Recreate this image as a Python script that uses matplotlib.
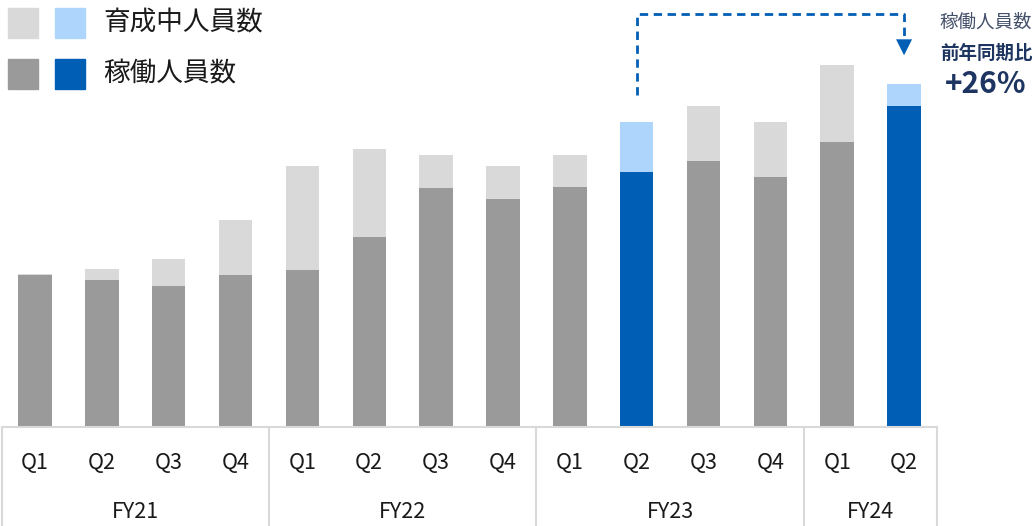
import matplotlib
matplotlib.use("Agg")
import matplotlib.pyplot as plt
from matplotlib.patches import Rectangle

plt.rcParams["font.family"] = ["Noto Sans CJK JP", "DejaVu Sans"]

# values (arbitrary units, no y axis in the original)
quarters = ["Q1", "Q2", "Q3", "Q4", "Q1", "Q2", "Q3", "Q4",
            "Q1", "Q2", "Q3", "Q4", "Q1", "Q2"]
years = ["FY21", "FY22", "FY23", "FY24"]
year_sizes = [4, 4, 4, 2]
active = [152, 147, 141, 152, 157, 190, 239, 228, 240, 255, 266, 250, 285, 321]
training = [1, 11, 27, 55, 104, 88, 33, 33, 32, 50, 55, 55, 77, 22]
highlight = [9, 13]  # FY23 Q2 vs FY24 Q2

GRAY_DARK = "#9a9a9a"
GRAY_LIGHT = "#d9d9d9"
BLUE = "#005eb5"
BLUE_LIGHT = "#aed6fd"
LINE = "#d9d9d9"
TEXT = "#1a1a1a"

W, H = 1034, 526
fig = plt.figure(figsize=(W / 100, H / 100), dpi=100)
ax = fig.add_axes([0, 0, 1, 1])
step = 66.85
ax.set_xlim(-35 / step, (W - 35) / step)
ax.set_ylim(-98.7, 427.3)
ax.axis("off")

n = len(active)
xs = list(range(n))
dark = [BLUE if i in highlight else GRAY_DARK for i in xs]
light = [BLUE_LIGHT if i in highlight else GRAY_LIGHT for i in xs]
ax.bar(xs, active, width=0.5, color=dark, zorder=2)
ax.bar(xs, training, bottom=active, width=0.5, color=light, zorder=2)

# category table under the bars
left, right = -0.5, n - 0.5
ax.plot([left, right], [0, 0], color=LINE, lw=1.5, clip_on=False, zorder=3)
edge = left
ax.plot([edge, edge], [0, -99], color=LINE, lw=1.5, clip_on=False)
for name, size in zip(years, year_sizes):
    mid = edge + size / 2
    edge += size
    ax.plot([edge, edge], [0, -99], color=LINE, lw=1.5, clip_on=False)
    ax.text(mid, -84.5, name, ha="center", va="center", fontsize=15.5, color=TEXT)
for x, q in zip(xs, quarters):
    ax.text(x, -36, q, ha="center", va="center", fontsize=15.5, color=TEXT)

# year-over-year dashed connector
a, b = highlight
tot_a = active[a] + training[a]
tot_b = active[b] + training[b]
top = max(a_ + t_ for a_, t_ in zip(active, training)) + 51
ax.plot([a, a, b, b], [tot_a + 27, top, top, tot_b + 46],
        color=BLUE, lw=2, ls=(0, (3, 2)), zorder=3)
hw = 8 / step
ax.fill([b - hw, b + hw, b], [tot_b + 45, tot_b + 45, tot_b + 29],
        color=BLUE, lw=0, zorder=3)


def fx(px):
    return px / W


def fy(py):
    return 1 - py / H


# legend
for col, row, c in [(8, 8, GRAY_LIGHT), (55, 8, BLUE_LIGHT),
                     (8, 59, GRAY_DARK), (55, 59, BLUE)]:
    fig.patches.append(Rectangle((fx(col), fy(row + 30)), 30 / W, 30 / H,
                                 transform=fig.transFigure, color=c))
fig.text(fx(103), fy(23), "育成中人員数", fontsize=19.2, va="center", color=TEXT)
fig.text(fx(103), fy(74), "稼働人員数", fontsize=19.2, va="center", color=TEXT)

# growth callout
growth = round((active[b] / active[a] - 1) * 100)
fig.text(fx(986), fy(23), "稼働人員数", fontsize=13.3, ha="center", va="center",
         color="#44506a")
fig.text(fx(986), fy(53), "前年同期比", fontsize=13.3, ha="center", va="center",
         color="#1d3560", fontweight="bold")
fig.text(fx(986), fy(84), f"+{growth}%", fontsize=21.5, ha="center", va="center",
         color="#1d3560", fontweight="bold")

fig.savefig("out.png", dpi=100)
